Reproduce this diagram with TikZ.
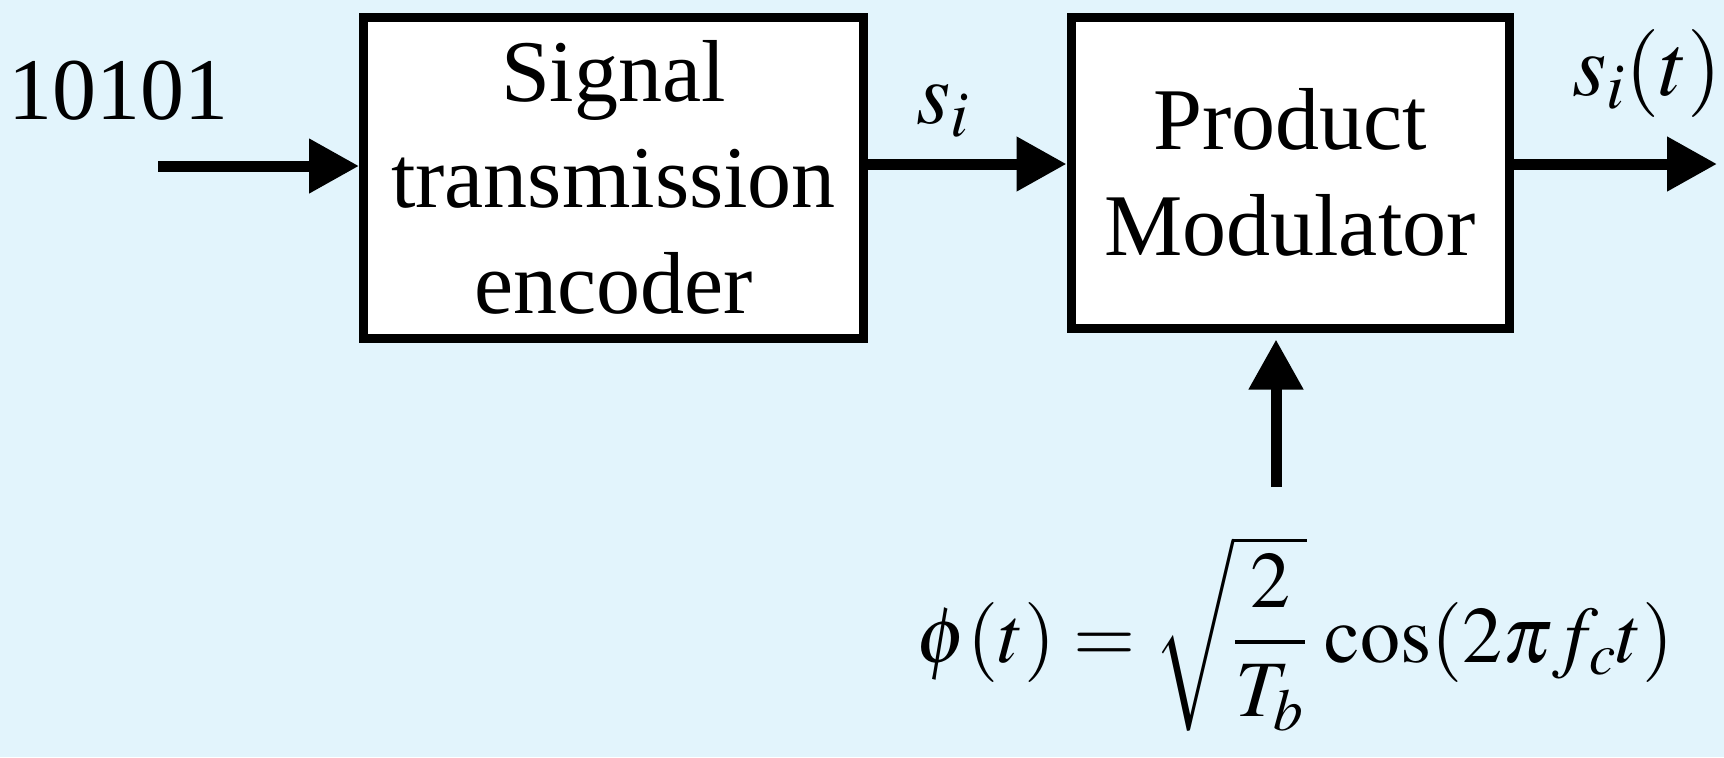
\documentclass[tikz,border=0pt]{standalone}
\usepackage{mathptmx}
\usepackage[no-math]{fontspec}
\setmainfont{Liberation Serif}
\usetikzlibrary{arrows.meta}
\definecolor{bgblue}{RGB}{226,244,252}

\begin{document}
\begin{tikzpicture}[x=0.5pt,y=-0.5pt,
  blk/.style={draw,line width=4.5pt,fill=white,align=center,inner sep=0pt},
  arr/.style={line width=5.5pt,-{Triangle[length=25pt,width=26pt]}},
  font=\fontsize{44}{53}\selectfont]
\fill[bgblue] (0,0) rectangle (1724,757);
\useasboundingbox (0,0) rectangle (1724,757);
\node[blk,minimum width=250pt,minimum height=160.5pt] (enc) at (613.5,177.5) {Signal\\transmission\\encoder};
\node[blk,minimum width=219pt,minimum height=155.5pt] (mod) at (1290,172.5) {Product\\Modulator};
\coordinate (in) at (158,166);
\coordinate (out) at (1717,164);
\coordinate (lo) at (1276,487);
\draw[arr] (in) -- (in -| enc.west);
\draw[arr] (enc.east |- out) -- (mod.west |- out);
\draw[arr] (mod.east |- out) -- (out);
\draw[arr,shorten >=3.5pt] (lo) -- (lo |- mod.south);
\node[anchor=base] (bits) at (119,119) {10101};
\node[anchor=base] (si) at (943,123) {$s_i$};
\node[anchor=base] (sit) at (1647,95) {$s_i(t)$};
\node[anchor=base,font=\fontsize{40}{48}\selectfont] (phi) at (1295,662) {$\displaystyle \phi(t)=\sqrt{\frac{2}{T_b}}\,\cos(2\pi f_c t)$};
\end{tikzpicture}
\end{document}
